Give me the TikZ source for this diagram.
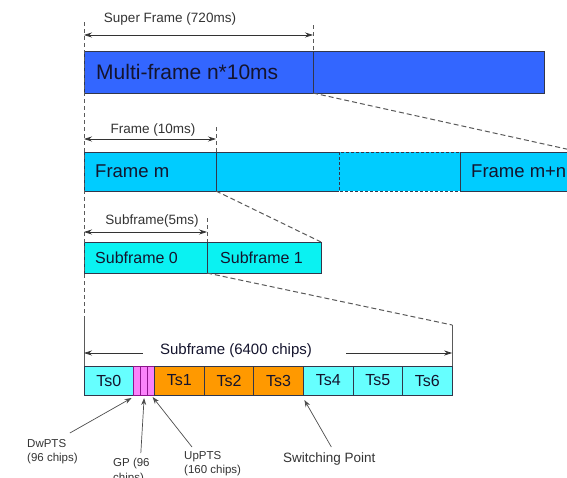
\documentclass[tikz,border=0pt]{standalone}
\usepackage{fontspec}
\setmainfont{Liberation Sans}
\usetikzlibrary{arrows.meta, positioning, calc}
\definecolor{multiblue}{RGB}{51,102,255}
\definecolor{framecyan}{RGB}{0,204,255}
\definecolor{subcyan}{RGB}{10,242,242}
\definecolor{tscyan}{RGB}{102,255,255}
\definecolor{tsorange}{RGB}{255,153,0}
\definecolor{gppink}{RGB}{250,130,250}
\definecolor{gpline}{RGB}{140,20,140}
\definecolor{edgegray}{RGB}{50,55,75}
\definecolor{guidegray}{RGB}{90,90,90}
\definecolor{txtdark}{RGB}{20,20,45}
\tikzset{
  cell/.style={draw=edgegray, line width=0.8pt, outer sep=0pt, inner sep=0pt, anchor=north west},
  fillcell/.style={outer sep=0pt, inner sep=0pt, anchor=north west},
  tscell/.style={cell, minimum width=49.6, minimum height=29, text=txtdark,
    font=\fontsize{16}{19}\selectfont},
  gpcell/.style={cell, draw=gpline, fill=gppink, minimum width=7, minimum height=29},
  edge/.style={draw=edgegray, line width=0.8pt},
  lbl/.style={inner sep=0pt, text=txtdark},
  dimlbl/.style={inner sep=0pt, text=black!80, font=\fontsize{13.5}{16}\selectfont},
  notelbl/.style={inner sep=0pt, text=black!80, align=left, anchor=north west,
    font=\fontsize{11.5}{14.5}\selectfont},
  dim/.style={{Stealth[length=8pt,width=5pt]}-{Stealth[length=8pt,width=5pt]}, line width=0.7pt, color=black!80},
  dimone/.style={-{Stealth[length=8pt,width=5pt]}, line width=0.7pt, color=black!80},
  note/.style={-{Stealth[length=7pt,width=5pt]}, line width=0.7pt, color=black!70},
  guide/.style={dash pattern=on 4pt off 3pt, line width=0.8pt, color=guidegray},
  zoomline/.style={dash pattern=on 5pt off 3pt, line width=1pt, color=black!65}
}
\begin{document}
\begin{tikzpicture}[x=1pt, y=-1pt]
  \useasboundingbox (0,0) rectangle (567,477);
  \clip (0,0) rectangle (567,477);
  % Multi-frame row
  \node[cell, fill=multiblue, minimum width=229, minimum height=42] (multia) at (84,51) {};
  \node[cell, fill=multiblue, minimum width=231, minimum height=42, right=0pt of multia] (multib) {};
  \node[lbl, anchor=west, font=\fontsize{21}{25}\selectfont] (multitxt) at ([xshift=12pt]multia.west) {Multi-frame n*10ms};
  % Frame row
  \node[cell, fill=framecyan, minimum width=132, minimum height=39] (framem) at (84,152) {};
  \node[fillcell, fill=framecyan, minimum width=123, minimum height=39, right=0pt of framem] (frame2) {};
  \node[fillcell, fill=framecyan, minimum width=121, minimum height=39, right=0pt of frame2] (frame3) {};
  \draw[edge] (frame2.north east) -- (frame2.north west) -- (frame2.south west) -- (frame2.south east);
  \draw[edge, dash pattern=on 3pt off 2pt] (frame3.north west) rectangle (frame3.south east);
  \node[cell, fill=framecyan, minimum width=120, minimum height=39, right=0pt of frame3] (framelast) {};
  \node[lbl, anchor=west, font=\fontsize{18.5}{22}\selectfont] (frametxt) at ([xshift=11pt]framem.west) {Frame m};
  \node[lbl, anchor=west, font=\fontsize{18.5}{22}\selectfont] (lasttxt) at ([xshift=11pt]framelast.west) {Frame m+n-1};
  % Subframe row
  \node[cell, fill=subcyan, minimum width=123, minimum height=31] (sub0) at (84,242) {};
  \node[cell, fill=subcyan, minimum width=114, minimum height=31, right=0pt of sub0] (sub1) {};
  \node[lbl, anchor=west, font=\fontsize{16}{19}\selectfont] (sub0txt) at ([xshift=11pt]sub0.west) {Subframe 0};
  \node[lbl, anchor=west, font=\fontsize{16}{19}\selectfont] (sub1txt) at ([xshift=13pt]sub1.west) {Subframe 1};
  % Time slot row
  \node[tscell, fill=tscyan] (ts0) at (84,366) {Ts0};
  \node[gpcell, right=0pt of ts0] (dwpts) {};
  \node[gpcell, right=0pt of dwpts] (gp) {};
  \node[gpcell, right=0pt of gp] (uppts) {};
  \foreach \i/\prev/\col in {1/uppts/tsorange, 2/ts1/tsorange, 3/ts2/tsorange,
                             4/ts3/tscyan, 5/ts4/tscyan, 6/ts5/tscyan}
    \node[tscell, fill=\col, right=0pt of \prev] (ts\i) {Ts\i};
  \coordinate (tsright) at ([yshift=41pt]ts6.north east);
  % Guide lines
  \draw[guide] ([yshift=29pt]multia.north west) -- ([yshift=48pt]ts0.north west);
  \draw[edge, draw=guidegray] ([yshift=48pt]ts0.north west) -- (ts0.north west);
  \draw[edge, draw=guidegray] (tsright) -- (ts6.north east);
  \draw[guide] ([yshift=26pt]multia.north east) -- (multia.north east);
  \draw[guide] ([yshift=25pt]framem.north east) -- (framem.north east);
  \draw[guide] ([yshift=24pt]sub0.north east) -- (sub0.north east);
  % Zoom lines
  \draw[zoomline] (multia.south east) -- (framelast.north east);
  \draw[zoomline] (framem.south east) -- (sub1.north east);
  \draw[zoomline] (sub0.south east) -- (tsright);
  % Dimensions
  \draw[dim] ([yshift=16pt]multia.north west) -- ([yshift=16pt]multia.north east);
  \draw[dim] ([yshift=13pt]framem.north west) -- ([yshift=13pt]framem.north east);
  \draw[dim] ([yshift=10pt]sub0.north west) -- ([yshift=10pt]sub0.north east);
  \node[dimlbl] (sflbl) at (170,19) {Super Frame (720ms)};
  \node[dimlbl] (frlbl) at (153,130) {Frame (10ms)};
  \node[dimlbl] (sblbl) at (152,221) {Subframe(5ms)};
  \node[lbl, font=\fontsize{15}{18}\selectfont] (chipslbl) at (236,351) {Subframe (6400 chips)};
  \draw[dimone] ([xshift=-17pt, yshift=-2pt]chipslbl.west) -- ([yshift=13pt]ts0.north west);
  \draw[dimone] ([xshift=34pt, yshift=-2pt]chipslbl.east) -- ([yshift=13pt]ts6.north east);
  % Notes
  \node[notelbl] (dwlbl) at (27,439) {DwPTS\\(96 chips)};
  \node[notelbl] (gplbl) at (113,458) {GP (96\\chips)};
  \node[notelbl] (uplbl) at (184,451) {UpPTS\\(160 chips)};
  \node[notelbl, font=\fontsize{13.5}{16}\selectfont] (swlbl) at (283,453) {Switching Point};
  \draw[note] ([xshift=-8pt, yshift=6pt]dwlbl.north east) -- ([xshift=-2pt, yshift=-3pt]dwpts.south west);
  \draw[note] ([xshift=-9pt, yshift=5pt]gplbl.north east) -- ([yshift=-3pt]gp.south);
  \draw[note] ([xshift=8pt, yshift=4pt]uplbl.north west) -- ([xshift=-2pt, yshift=-2pt]uppts.south east);
  \draw[note] ([xshift=2pt, yshift=6pt]swlbl.north) -- ([xshift=1pt, yshift=-5pt]ts3.south east);
\end{tikzpicture}
\end{document}
